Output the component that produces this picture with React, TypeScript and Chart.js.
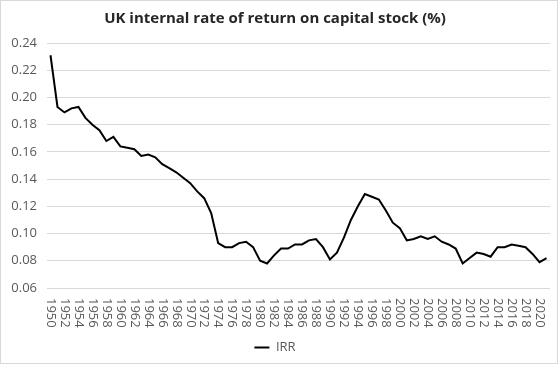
import React, { useEffect, useRef } from "react";
import { Chart, registerables } from "chart.js";

Chart.register(...registerables);

const TITLE = "UK internal rate of return on capital stock (%)";
const SERIES_LABEL = "IRR";
const YEARS: string[] = [
  "1950","1951","1952","1953","1954","1955","1956","1957","1958","1959",
  "1960","1961","1962","1963","1964","1965","1966","1967","1968","1969",
  "1970","1971","1972","1973","1974","1975","1976","1977","1978","1979",
  "1980","1981","1982","1983","1984","1985","1986","1987","1988","1989",
  "1990","1991","1992","1993","1994","1995","1996","1997","1998","1999",
  "2000","2001","2002","2003","2004","2005","2006","2007","2008","2009",
  "2010","2011","2012","2013","2014","2015","2016","2017","2018","2019",
  "2020","2021",
];
const IRR: number[] = [
  0.231, 0.193, 0.189, 0.192, 0.193, 0.185, 0.180, 0.176, 0.168, 0.171,
  0.164, 0.163, 0.162, 0.157, 0.158, 0.156, 0.151, 0.148, 0.145, 0.141,
  0.137, 0.131, 0.126, 0.115, 0.093, 0.090, 0.090, 0.093, 0.094, 0.090,
  0.080, 0.078, 0.084, 0.089, 0.089, 0.092, 0.092, 0.095, 0.096, 0.090,
  0.081, 0.086, 0.097, 0.110, 0.120, 0.129, 0.127, 0.125, 0.117, 0.108,
  0.104, 0.095, 0.096, 0.098, 0.096, 0.098, 0.094, 0.092, 0.089, 0.078,
  0.082, 0.086, 0.085, 0.083, 0.090, 0.090, 0.092, 0.091, 0.090, 0.085,
  0.079, 0.082,
];
const Y_MIN = 0.06;
const Y_MAX = 0.24;
const Y_STEP = 0.02;

const FONT = "'Open Sans', 'Liberation Sans', sans-serif";
const TICK_COLOR = "#595959";

const verticalLabels = {
  id: "verticalLabels",
  afterDraw(chart: any) {
    const ctx = chart.ctx;
    const xs = chart.scales.x;
    ctx.save();
    ctx.fillStyle = TICK_COLOR;
    ctx.font = `13px ${FONT}`;
    ctx.textAlign = "left";
    ctx.textBaseline = "middle";
    const top = chart.chartArea.bottom + 10;
    YEARS.forEach((yr, i) => {
      if (i % 2 !== 0) return;
      const x = xs.getPixelForTick(i);
      ctx.save();
      ctx.translate(x, top);
      ctx.rotate(Math.PI / 2);
      ctx.fillText(yr, 0, 0);
      ctx.restore();
    });
    ctx.strokeStyle = "#d9d9d9";
    ctx.lineWidth = 1;
    ctx.strokeRect(0.5, 0.5, chart.width - 2, chart.height - 2);
    ctx.restore();
  },
};

export default function App() {
  const ref = useRef<HTMLCanvasElement | null>(null);
  useEffect(() => {
    document.body.style.margin = "0";
    const canvas = ref.current;
    if (!canvas) return;
    const chart = new Chart(canvas, {
      type: "line",
      data: {
        labels: YEARS,
        datasets: [
          {
            label: SERIES_LABEL,
            data: IRR,
            borderColor: "#000000",
            backgroundColor: "#000000",
            borderWidth: 2,
            pointRadius: 0,
            tension: 0,
          },
        ],
      },
      options: {
        responsive: false,
        animation: false,
        devicePixelRatio: 1,
        layout: { padding: { left: 0, right: 9, top: 0, bottom: 1 } },
        plugins: {
          title: {
            display: true,
            text: TITLE,
            color: "#262626",
            font: { family: FONT, size: 15, weight: "bold" },
            padding: { top: 10, bottom: 15 },
          },
          legend: {
            display: true,
            position: "bottom",
            labels: {
              color: TICK_COLOR,
              font: { family: FONT, size: 13 },
              usePointStyle: true,
              pointStyle: "line",
              pointStyleWidth: 15,
              padding: 6,
            },
          },
          tooltip: { enabled: false },
        },
        scales: {
          x: {
            type: "category",
            offset: true,
            grid: { display: false, drawTicks: false },
            border: { display: false },
            ticks: { display: false, autoSkip: false },
            afterFit(scale: any) {
              scale.height = 47;
            },
          },
          y: {
            min: Y_MIN,
            max: Y_MAX,
            grid: { color: "#d9d9d9", drawTicks: false, lineWidth: 1 },
            border: { display: false },
            ticks: {
              stepSize: Y_STEP,
              padding: 10,
              color: TICK_COLOR,
              font: { family: FONT, size: 13 },
              callback: (v: any) => Number(v).toFixed(2),
            },
            afterFit(scale: any) {
              scale.width = 47;
            },
          },
        },
      },
      plugins: [verticalLabels],
    });
    return () => chart.destroy();
  }, []);
  return <canvas ref={ref} width={559} height={365} style={{ display: "block" }} />;
}
